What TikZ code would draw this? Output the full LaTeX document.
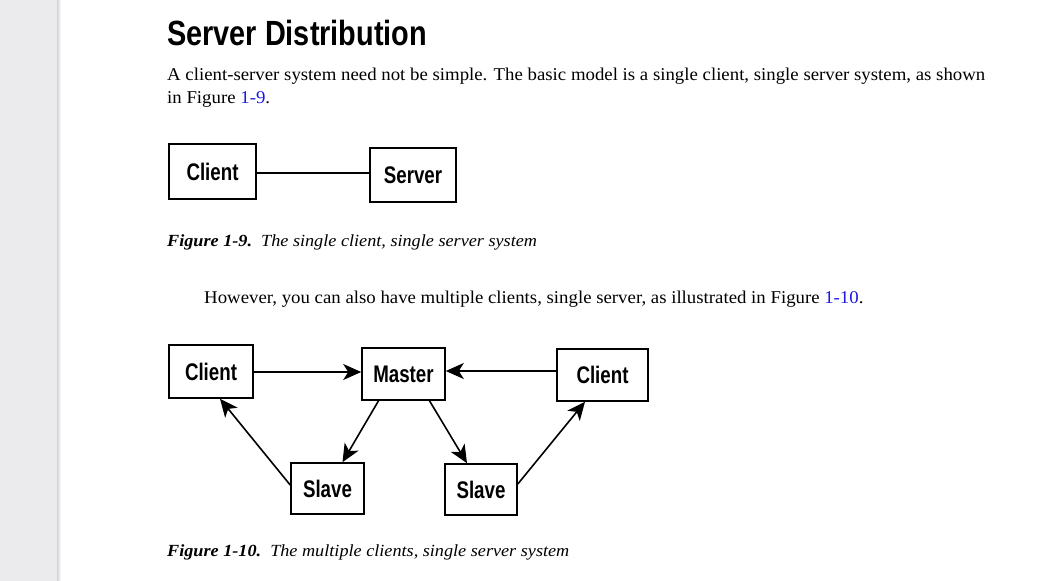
\documentclass[tikz,border=0pt]{standalone}
\usepackage{fontspec}
\setmainfont[FakeStretch=1.045]{Liberation Serif}
\newfontfamily\boxfont[FakeStretch=0.78]{Liberation Sans}
\newfontfamily\headfont[FakeStretch=0.825]{Liberation Sans}
\usetikzlibrary{arrows.meta}
\definecolor{linkblue}{RGB}{25,25,225}
\definecolor{sidegray}{RGB}{235,235,237}
\newcommand{\figref}[1]{\textcolor{linkblue}{#1}}

\begin{document}
\begin{tikzpicture}[x=1pt,y=-1pt,
	box/.style={draw, line width=1.6pt, inner sep=0pt, font=\boxfont\bfseries\fontsize{24}{26}\selectfont},
	txt/.style={anchor=base west, inner sep=0pt, font=\fontsize{18}{20}\selectfont},
	captxt/.style={anchor=base west, inner sep=0pt, font=\itshape\fontsize{17}{19}\selectfont\addfontfeatures{FakeStretch=1.07}},
	arr/.style={line width=1.6pt, -{Stealth[length=18pt, width=16pt, inset=5pt]}}]
	% page
	\useasboundingbox (0,0) rectangle (1058,581);
	\fill[white] (0,0) rectangle (1058,581);
	\fill[sidegray] (0,0) rectangle (57,581);
	\shade[left color=sidegray!90!black, right color=white] (57,0) rectangle (61,581);
	% heading and text
	\node[anchor=base west, inner sep=0pt, font=\headfont\bfseries\fontsize{35}{40}\selectfont] (head) at (167,45) {Server Distribution};
	\node[txt] (para1a) at (167,80) {A client-server system need not be simple. The basic model is a single client, single server system, as shown};
	\node[txt] (para1b) at (167,103) {in Figure \figref{1-9}.};
	\node[txt] (para2) at (204,303) {However, you can also have multiple clients, single server, as illustrated in Figure \figref{1-10}.};
	% figure 1-9
	\node[box, minimum width=87, minimum height=55] (client) at (212.5,171.5) {Client};
	\node[box, minimum width=86, minimum height=54] (server) at (413,175) {Server};
	\draw[line width=1.6pt] ([yshift=-1.5pt]client.east) -- ([yshift=-1.5pt]client.east -| server.west);
	\node[captxt] (cap1) at (167,246) {\textbf{Figure 1-9.}\ \ The single client, single server system};
	% figure 1-10
	\node[box, minimum width=84, minimum height=53] (clientl) at (211,371.5) {Client};
	\node[box, minimum width=83, minimum height=52] (master) at (403.5,374) {Master};
	\node[box, minimum width=91, minimum height=52] (clientr) at (602.5,375) {Client};
	\node[box, minimum width=73, minimum height=51] (slavel) at (327.5,488.5) {Slave};
	\node[box, minimum width=72, minimum height=51] (slaver) at (481,489.5) {Slave};
	\draw[arr] ([yshift=-0.5pt]clientl.east) -- ([yshift=-0.5pt]clientl.east -| master.west);
	\draw[arr] ([yshift=4pt]clientr.west) -- ([yshift=4pt]clientr.west -| master.east);
	\draw[arr] ([xshift=-25pt]master.south) -- ([xshift=15pt]slavel.north);
	\draw[arr] ([xshift=26pt]master.south) -- ([xshift=-14pt]slaver.north);
	\draw[arr] ([yshift=3.5pt]slavel.west) -- ([xshift=9pt]clientl.south);
	\draw[arr] ([yshift=5.5pt]slaver.east) -- ([xshift=-17.5pt]clientr.south);
	\node[captxt] (cap2) at (167,556) {\textbf{Figure 1-10.}\ \ The multiple clients, single server system};
\end{tikzpicture}
\end{document}
